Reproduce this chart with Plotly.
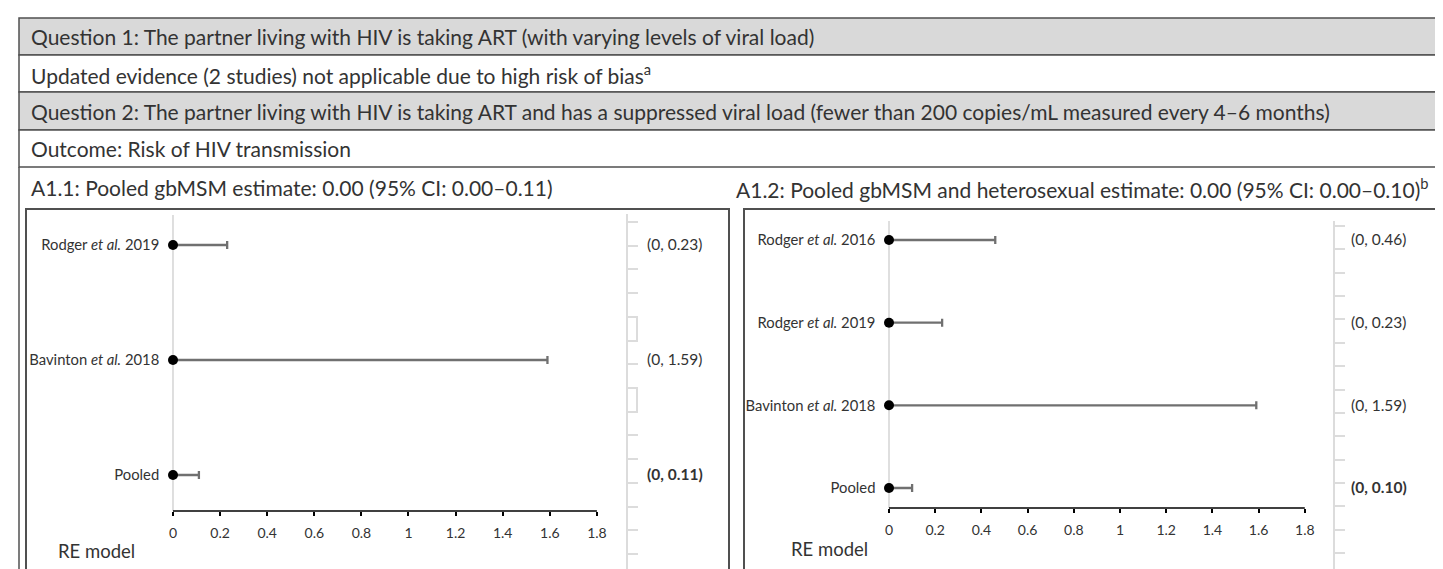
import plotly.graph_objects as go

W, H = 1443, 569

# ---------------- data ----------------
row_texts = [
    "Question 1: The partner living with HIV is taking ART (with varying levels of viral load)",
    "Updated evidence (2 studies) not applicable due to high risk of bias<sup>a</sup>",
    "Question 2: The partner living with HIV is taking ART and has a suppressed viral load (fewer than 200 copies/mL measured every 4–6 months)",
    "Outcome: Risk of HIV transmission",
]
row_shaded = [True, False, True, False]

title_a11 = "A1.1: Pooled gbMSM estimate: 0.00 (95% CI: 0.00–0.11)"
title_a12 = "A1.2: Pooled gbMSM and heterosexual estimate: 0.00 (95% CI: 0.00–0.10)<sup>b</sup>"

a11_studies = ["Rodger <i>et al.</i> 2019", "Bavinton <i>et al.</i> 2018", "Pooled"]
a11_est = [0.0, 0.0, 0.0]
a11_upper = [0.23, 1.59, 0.11]
a11_ci = ["(0, 0.23)", "(0, 1.59)", "<b>(0, 0.11)</b>"]

a12_studies = ["Rodger <i>et al.</i> 2016", "Rodger <i>et al.</i> 2019", "Bavinton <i>et al.</i> 2018", "Pooled"]
a12_est = [0.0, 0.0, 0.0, 0.0]
a12_upper = [0.46, 0.23, 1.59, 0.10]
a12_ci = ["(0, 0.46)", "(0, 0.23)", "(0, 1.59)", "<b>(0, 0.10)</b>"]

x_tick_vals = [0, 0.2, 0.4, 0.6, 0.8, 1, 1.2, 1.4, 1.6, 1.8]
x_tick_text = ["0", "0.2", "0.4", "0.6", "0.8", "1", "1.2", "1.4", "1.6", "1.8"]
model_label = "RE model"

# ---------------- helpers ----------------
def px(x):
    return x / W

def py(y):
    return 1 - y / H

FONT = "Lato"
TXT = "#333333"
BORDER = "#505050"
SIDE = "#dcdcdc"

fig = go.Figure()
shapes = []


def add_panel(xa, ya, ya2, studies, est, upper, ci, x0, ppu, row_top_px, row_bot_px,
              dom_top, axis_px, side_top, side_px, tick_first_px, tick_last_px, ci_standoff,
              label_standoff):
    n = len(studies)
    pos = list(range(n, 0, -1))
    spacing = (row_bot_px - row_top_px) / (n - 1)
    y_lo = 1 - (axis_px - row_bot_px) / spacing
    y_hi = n + (row_top_px - dom_top) / spacing
    y2_lo = 1 - (562 - row_bot_px) / spacing
    y2_hi = n + (row_top_px - side_top) / spacing
    xr = [-0.05, 1.85]
    xd = [px(x0 + xr[0] * ppu), px(x0 + xr[1] * ppu)]

    fig.add_trace(go.Scatter(
        x=est, y=pos, mode="markers",
        marker=dict(color="black", size=10),
        error_x=dict(type="data", symmetric=False, array=[u - e for u, e in zip(upper, est)],
                     arrayminus=[0] * n, color="#707070", thickness=2.3, width=4),
        xaxis=xa, yaxis=ya, showlegend=False, hoverinfo="skip", cliponaxis=False))
    # invisible companion trace so the side axis is drawn
    fig.add_trace(go.Scatter(x=est, y=pos, mode="markers", marker=dict(opacity=0),
                             xaxis=xa, yaxis=ya2, showlegend=False, hoverinfo="skip"))

    xkey = "xaxis" + ("" if xa == "x" else xa[1:])
    ykey = "yaxis" + ("" if ya == "y" else ya[1:])
    y2key = "yaxis" + ya2[1:]
    tick_step_px = (tick_last_px - tick_first_px) / 14
    fig.update_layout({
        xkey: dict(domain=xd, range=xr, anchor=ya, showgrid=False, showline=False,
                   zeroline=False,
                   tickmode="array", tickvals=x_tick_vals, ticktext=x_tick_text,
                   ticks="outside", ticklen=4, tickwidth=1.5, tickcolor="black",
                   tickfont=dict(family=FONT, size=14, color=TXT), ticklabelstandoff=5),
        ykey: dict(domain=[py(axis_px), py(dom_top)], range=[y_lo, y_hi], anchor=xa,
                   showgrid=False, zeroline=False, showline=False,
                   tickmode="array", tickvals=pos, ticktext=studies, ticks="",
                   tickfont=dict(family=FONT, size=14.8, color=TXT),
                   ticklabelstandoff=label_standoff),
        y2key: dict(domain=[py(562), py(side_top)], range=[y2_lo, y2_hi], anchor="free",
                    position=px(side_px), side="right", showgrid=False, zeroline=False,
                    showline=True, linecolor=SIDE, linewidth=2,
                    tickmode="array", tickvals=pos, ticktext=ci, ticks="",
                    tickfont=dict(family=FONT, size=15.5, color=TXT),
                    ticklabelstandoff=ci_standoff,
                    minor=dict(tickmode="linear",
                               tick0=1 - (tick_last_px - row_bot_px) / spacing,
                               dtick=tick_step_px / spacing,
                               ticks="outside", ticklen=10, tickcolor=SIDE, tickwidth=2,
                               showgrid=False)),
    })
    # zero reference line (below the markers)
    shapes.append(dict(type="line", xref=xa, yref=ya + " domain", x0=0, x1=0, y0=0, y1=1,
                       line=dict(color="#d4d4d4", width=1.5), layer="below"))
    # x axis baseline from first to last tick
    shapes.append(dict(type="line", xref=xa, yref=ya + " domain", x0=x_tick_vals[0],
                       x1=x_tick_vals[-1], y0=0, y1=0, line=dict(color="black", width=1.5)))


# left panel
add_panel("x", "y", "y2", a11_studies, a11_est, a11_upper, a11_ci,
          x0=165, ppu=235.5, row_top_px=237, row_bot_px=467, dom_top=207, axis_px=503,
          side_top=206, side_px=619, tick_first_px=214, tick_last_px=546, ci_standoff=16,
          label_standoff=1)
# right panel
add_panel("x3", "y3", "y4", a12_studies, a12_est, a12_upper, a12_ci,
          x0=881, ppu=231, row_top_px=232, row_bot_px=480, dom_top=213, axis_px=500,
          side_top=213, side_px=1326, tick_first_px=218, tick_last_px=545, ci_standoff=13,
          label_standoff=1)

# table rows
row_edges = [10, 47, 84, 122, 159]
for i, sh in enumerate(row_shaded):
    shapes.append(dict(type="rect", xref="paper", yref="paper", x0=px(11), x1=px(1441),
                       y0=py(row_edges[i + 1]), y1=py(row_edges[i]),
                       fillcolor="#d9d9d9" if sh else "white",
                       line=dict(color=BORDER, width=1.5), layer="below"))
# outer left line
shapes.append(dict(type="line", xref="paper", yref="paper", x0=px(11), x1=px(11),
                   y0=py(159), y1=py(568), line=dict(color=BORDER, width=1.5)))
# panel boxes
for xl, xr_ in [(18, 721), (736, 1438)]:
    shapes.append(dict(type="rect", xref="paper", yref="paper", x0=px(xl), x1=px(xr_),
                       y0=py(562), y1=py(201), line=dict(color=BORDER, width=2),
                       fillcolor="rgba(0,0,0,0)", layer="below"))
# bracket artefacts on the left side axis
for a, b in [(310, 333), (380, 403)]:
    shapes.append(dict(type="line", xref="paper", yref="paper", x0=px(629), x1=px(629),
                       y0=py(a), y1=py(b), line=dict(color=SIDE, width=2)))

ann = []
for i, t in enumerate(row_texts):
    ann.append(dict(text=t, xref="paper", yref="paper", x=px(21),
                    y=py((row_edges[i] + row_edges[i + 1]) / 2),
                    xanchor="left", yanchor="middle", showarrow=False,
                    font=dict(family=FONT, size=21, color=TXT)))
ann.append(dict(text=title_a11, xref="paper", yref="paper", x=px(21), y=py(180),
                xanchor="left", yanchor="middle", showarrow=False,
                font=dict(family=FONT, size=21, color=TXT)))
ann.append(dict(text=title_a12, xref="paper", yref="paper", x=px(726), y=py(180),
                xanchor="left", yanchor="middle", showarrow=False,
                font=dict(family=FONT, size=21, color=TXT)))
ann.append(dict(text=model_label, xref="paper", yref="paper", x=px(48), y=py(543),
                xanchor="left", yanchor="middle", showarrow=False,
                font=dict(family=FONT, size=18.5, color=TXT)))
ann.append(dict(text=model_label, xref="paper", yref="paper", x=px(781), y=py(541),
                xanchor="left", yanchor="middle", showarrow=False,
                font=dict(family=FONT, size=18.5, color=TXT)))

fig.update_layout(
    width=W, height=H, margin=dict(l=0, r=0, t=0, b=0),
    paper_bgcolor="white", plot_bgcolor="rgba(0,0,0,0)",
    annotations=ann, shapes=shapes, showlegend=False,
    font=dict(family=FONT, color=TXT),
)

fig.write_html("out.html")
